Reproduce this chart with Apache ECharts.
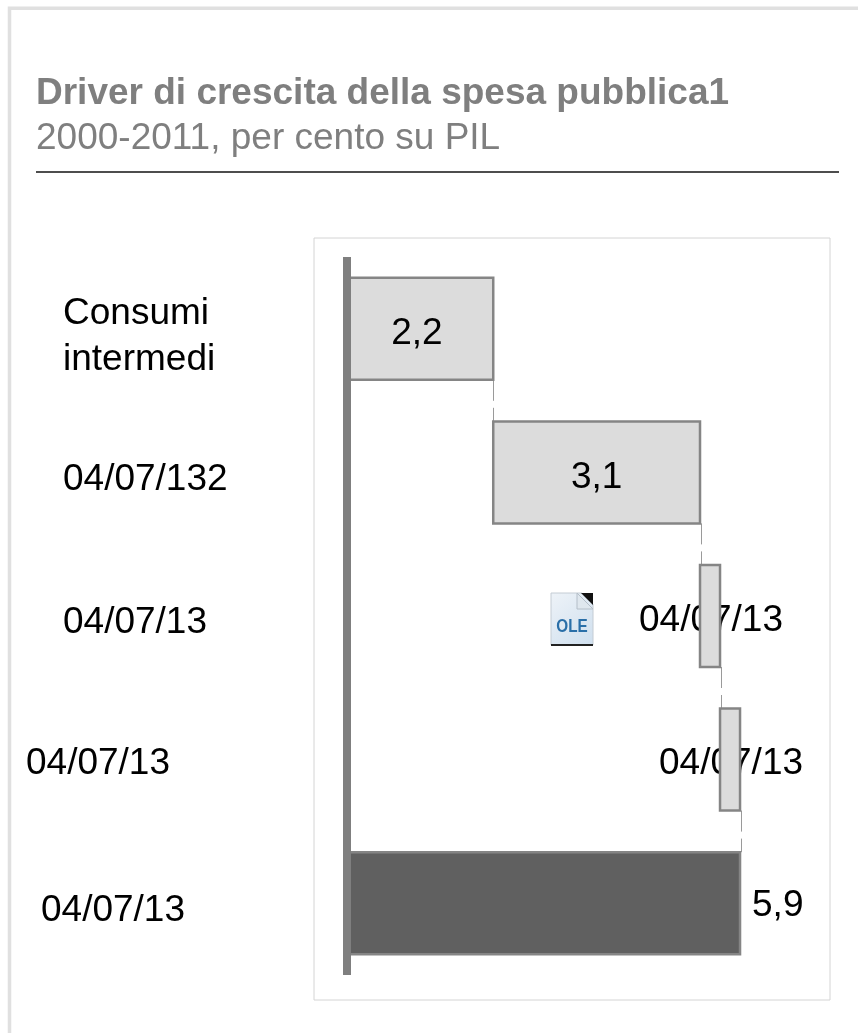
<!DOCTYPE html>
<html><head><meta charset="utf-8">
<style>html,body{margin:0;padding:0;background:#fff}#c{width:858px;height:1033px}</style>
<script src="https://cdn.jsdelivr.net/npm/echarts@6/dist/echarts.min.js"></script>
</head><body><div id="c"></div>
<script>
const categories = ['Consumi\nintermedi', '04/07/132', '04/07/13', '04/07/13 ', '04/07/13  '];
const categoryPad = [37, 37, 37, 0, 15];
const categoryDrop = [16, 14, 14, 8, 16];
const offsets = [0, 2.2, 5.3, 5.6, 0];
const values = [2.2, 3.1, 0.3, 0.3, 5.9];
const valueLabels = ['2,2', '3,1', '04/07/13', '04/07/13', '5,9'];
const FONT = '"Liberation Sans", Arial, sans-serif';
const chart = echarts.init(document.getElementById('c'), null, {renderer: 'canvas'});
const richStyles = {};
categoryPad.forEach((p, i) => {
  richStyles['p' + i] = {padding: [categoryDrop[i], 0, 0, p], fontSize: 37, lineHeight: 46, color: '#000', fontFamily: FONT};
});
function oleIcon() {
  return {type: 'group', x: 551, y: 593, children: [
    {type: 'polygon', shape: {points: [[0, 0], [31, 0], [42, 11], [42, 52], [0, 52]]},
      style: {fill: {type: 'linear', x: 0, y: 0, x2: 1, y2: 1, colorStops: [{offset: 0, color: '#eef3f8'}, {offset: 1, color: '#cfdfee'}]}, stroke: '#c4ccd4', lineWidth: 1}},
    {type: 'polygon', shape: {points: [[30, 0], [42, 0], [42, 12]]}, style: {fill: '#111'}},
    {type: 'polygon', shape: {points: [[26, 0], [26, 16], [42, 16]]}, style: {fill: '#dfe7ee', stroke: '#b4bec8', lineWidth: 1}},
    {type: 'rect', shape: {x: 0, y: 51, width: 42, height: 2}, style: {fill: '#222'}},
    {type: 'text', x: 21, y: 34, style: {text: 'OLE', fill: '#2a6fa8', font: 'bold 18px ' + FONT, align: 'center', verticalAlign: 'middle'}, scaleX: 0.85}
  ]};
}
chart.setOption({
  animation: false,
  backgroundColor: '#fff',
  title: {
    left: 36, top: 75, padding: 0, itemGap: 8,
    text: 'Driver di crescita della spesa pubblica1',
    subtext: '2000-2011, per cento su PIL',
    textStyle: {fontFamily: FONT, fontSize: 37, fontWeight: 'bold', color: '#7f7f7f'},
    subtextStyle: {fontFamily: FONT, fontSize: 37, color: '#7f7f7f'}
  },
  grid: {left: 346.5, top: 257, width: 466.9, height: 718},
  xAxis: {type: 'value', min: 0, max: 7, show: false},
  yAxis: {
    type: 'category', inverse: true, data: categories, z: 5,
    axisLine: {show: true, lineStyle: {color: '#7f7f7f', width: 8, cap: 'butt'}},
    axisTick: {show: false}, splitLine: {show: false},
    axisLabel: {
      interval: 0, margin: 320.5, align: 'left',
      formatter: (v, i) => v.trim().split('\n').map(s => '{p' + i + '|' + s + '}').join('\n'),
      rich: richStyles
    }
  },
  series: [
    {
      type: 'custom', name: 'etichette sotto', z: 1, silent: true,
      data: values.map((v, i) => [offsets[i] + v / 2, i]),
      encode: {x: 0, y: 1},
      renderItem: (p, api) => {
        const i = p.dataIndex;
        if (i !== 2 && i !== 3) return {type: 'group', children: []};
        const c = api.coord([api.value(0), i]);
        return {type: 'text', x: c[0] + 1, y: c[1] + (i === 2 ? 5 : 4), style: {text: valueLabels[i], fill: '#000', font: '37px ' + FONT, align: 'center', verticalAlign: 'middle'}};
      }
    },
    {
      type: 'custom', name: 'connettori', z: 2, silent: true,
      data: values.slice(0, -1).map((v, i) => [offsets[i] + v, i]),
      encode: {x: 0, y: 1},
      renderItem: (p, api) => {
        const i = p.dataIndex;
        const a = api.coord([api.value(0), i]);
        const b = api.coord([api.value(0), i + 1]);
        const x = Math.round(a[0]) + (i === 0 ? 0.5 : 1.5);
        return {type: 'line', shape: {x1: x, y1: a[1] + 51, x2: x, y2: b[1] - 51},
          style: {stroke: '#9a9a9a', lineWidth: 1, lineDash: [21, 7]}};
      }
    },
    {
      type: 'bar', stack: 'w', z: 3, barWidth: 102, silent: true,
      data: offsets, itemStyle: {color: 'transparent', borderWidth: 0}
    },
    {
      type: 'bar', stack: 'w', z: 3, barWidth: 102,
      data: values.map((v, i) => ({
        value: v,
        itemStyle: {color: i === 4 ? '#606060' : '#dcdcdc', borderWidth: 0},
        label: {
          show: i !== 2 && i !== 3,
          position: i === 4 ? 'right' : 'inside',
          distance: 12,
          offset: [i === 0 ? -3 : 0, i === 4 ? 3 : 5],
          formatter: valueLabels[i],
          color: '#000', fontSize: 37, fontFamily: FONT
        }
      }))
    },
    {
      type: 'custom', name: 'bordi', z: 4, silent: true,
      data: values.map((v, i) => [offsets[i], offsets[i] + v, i]),
      encode: {x: [0, 1], y: 2},
      renderItem: (p, api) => {
        const a = api.coord([api.value(0), api.value(2)]);
        const b = api.coord([api.value(1), api.value(2)]);
        return {type: 'rect', shape: {x: a[0], y: a[1] - 51, width: b[0] - a[0], height: 102},
          style: {fill: 'none', stroke: '#858585', lineWidth: 2.5}};
      }
    }
  ],
  graphic: [
    {type: 'polyline', z: -10, shape: {points: [[9.5, 1033], [9.5, 8.3], [858, 8.3]]}, style: {fill: null, stroke: '#e0e0e0', lineWidth: 3.5}},
    {type: 'line', shape: {x1: 36, y1: 172, x2: 839, y2: 172}, style: {stroke: '#4d4d4d', lineWidth: 2}},
    {type: 'rect', z: -10, shape: {x: 314, y: 238, width: 516, height: 762}, style: {fill: '#fff', stroke: '#d4d4d4', lineWidth: 1}},
    oleIcon()
  ]
});
</script></body></html>
